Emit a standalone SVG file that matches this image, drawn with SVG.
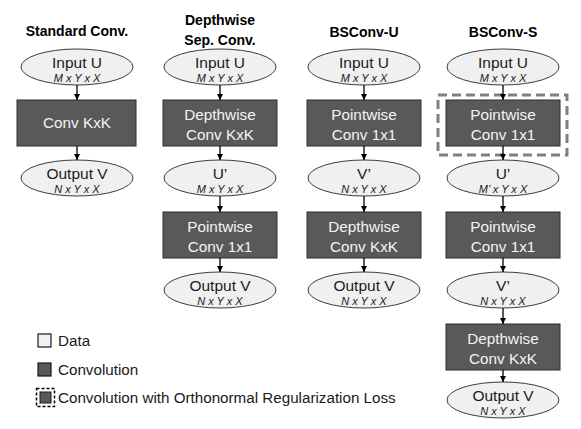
<svg xmlns="http://www.w3.org/2000/svg" width="581" height="429" viewBox="0 0 581 429">
<defs>
<marker id="ah" viewBox="0 0 10 10" refX="10" refY="5" markerWidth="6" markerHeight="6" orient="auto" markerUnits="userSpaceOnUse">
<path d="M0,0 L10,5 L0,10 z" fill="#000"/>
</marker>
<style>
.t{font-family:"Liberation Sans",Arial,sans-serif;font-weight:bold;font-size:14px;fill:#000;text-anchor:middle}
.data ellipse{fill:#f0f0f0;stroke:#3c3c3c;stroke-width:1}
.conv rect{fill:#595959;stroke:#2e2e2e;stroke-width:1}
.lb{font-family:"Liberation Sans",Arial,sans-serif;font-size:15.5px;fill:#1a1a1a;text-anchor:middle}
.sub{font-family:"Liberation Sans",Arial,sans-serif;font-size:11px;font-style:italic;fill:#1a1a1a;text-anchor:middle}
.cl{font-family:"Liberation Sans",Arial,sans-serif;font-size:15.3px;fill:#f4f4f4;text-anchor:middle}
.lg{font-family:"Liberation Sans",Arial,sans-serif;font-size:15.2px;fill:#1a1a1a}
.ar{stroke:#000;stroke-width:1.3;fill:none;marker-end:url(#ah)}
</style>
</defs>
<rect width="581" height="429" fill="#fff"/>

<g id="titles">
<text class="t" x="77" y="36">Standard Conv.</text>
<text class="t" x="220" y="25">Depthwise</text>
<text class="t" x="220" y="45">Sep. Conv.</text>
<text class="t" x="364" y="37">BSConv-U</text>
<text class="t" x="503" y="37">BSConv-S</text>
</g>

<!-- Column 1 -->
<g id="c1-input" class="data"><ellipse cx="77" cy="67" rx="56" ry="18"/><text class="lb" x="77" y="68">Input U</text><text class="sub" x="77" y="82">M x Y x X</text></g>
<g id="c1-conv" class="conv"><rect x="17" y="100" width="119" height="46"/><text class="cl" x="77" y="128">Conv KxK</text></g>
<g id="c1-output" class="data"><ellipse cx="77" cy="178" rx="56" ry="18"/><text class="lb" x="77" y="179">Output V</text><text class="sub" x="77" y="193">N x Y x X</text></g>

<!-- Column 2 -->
<g id="c2-input" class="data"><ellipse cx="220" cy="67" rx="56" ry="18"/><text class="lb" x="220" y="68">Input U</text><text class="sub" x="220" y="82">M x Y x X</text></g>
<g id="c2-dw" class="conv"><rect x="163" y="100" width="114" height="46"/><text class="cl" x="220" y="120">Depthwise</text><text class="cl" x="220" y="140">Conv KxK</text></g>
<g id="c2-u" class="data"><ellipse cx="220" cy="178" rx="56" ry="18"/><text class="lb" x="220" y="179">U’</text><text class="sub" x="220" y="193">M x Y x X</text></g>
<g id="c2-pw" class="conv"><rect x="163" y="212" width="114" height="46"/><text class="cl" x="220" y="232">Pointwise</text><text class="cl" x="220" y="252">Conv 1x1</text></g>
<g id="c2-output" class="data"><ellipse cx="220" cy="290" rx="56" ry="18"/><text class="lb" x="220" y="291">Output V</text><text class="sub" x="220" y="305">N x Y x X</text></g>

<!-- Column 3 -->
<g id="c3-input" class="data"><ellipse cx="364" cy="67" rx="56" ry="18"/><text class="lb" x="364" y="68">Input U</text><text class="sub" x="364" y="82">M x Y x X</text></g>
<g id="c3-pw" class="conv"><rect x="307" y="100" width="114" height="46"/><text class="cl" x="364" y="120">Pointwise</text><text class="cl" x="364" y="140">Conv 1x1</text></g>
<g id="c3-v" class="data"><ellipse cx="364" cy="178" rx="56" ry="18"/><text class="lb" x="364" y="179">V’</text><text class="sub" x="364" y="193">N x Y x X</text></g>
<g id="c3-dw" class="conv"><rect x="307" y="212" width="114" height="46"/><text class="cl" x="364" y="232">Depthwise</text><text class="cl" x="364" y="252">Conv KxK</text></g>
<g id="c3-output" class="data"><ellipse cx="364" cy="290" rx="56" ry="18"/><text class="lb" x="364" y="291">Output V</text><text class="sub" x="364" y="305">N x Y x X</text></g>

<!-- Column 4 -->
<g id="c4-input" class="data"><ellipse cx="503" cy="67" rx="56" ry="18"/><text class="lb" x="503" y="68">Input U</text><text class="sub" x="503" y="82">M x Y x X</text></g>
<g id="c4-pw1" class="conv"><rect x="446" y="100" width="114" height="46"/><text class="cl" x="503" y="120">Pointwise</text><text class="cl" x="503" y="140">Conv 1x1</text></g>
<g id="c4-u" class="data"><ellipse cx="503" cy="178" rx="56" ry="18"/><text class="lb" x="503" y="179">U’</text><text class="sub" x="503" y="193">M’ x Y x X</text></g>
<g id="c4-pw2" class="conv"><rect x="446" y="212" width="114" height="46"/><text class="cl" x="503" y="232">Pointwise</text><text class="cl" x="503" y="252">Conv 1x1</text></g>
<g id="c4-v" class="data"><ellipse cx="503" cy="290" rx="56" ry="18"/><text class="lb" x="503" y="291">V’</text><text class="sub" x="503" y="305">N x Y x X</text></g>
<g id="c4-dw" class="conv"><rect x="446" y="324" width="114" height="46"/><text class="cl" x="503" y="344">Depthwise</text><text class="cl" x="503" y="364">Conv KxK</text></g>
<g id="c4-output" class="data"><ellipse cx="503" cy="400" rx="56" ry="18"/><text class="lb" x="503" y="401">Output V</text><text class="sub" x="503" y="415">N x Y x X</text></g>

<g id="ortho-box"><rect x="438" y="95" width="129" height="60" fill="none" stroke="#808080" stroke-width="3" stroke-dasharray="9 5"/></g>

<g id="connectors">
<line class="ar" x1="77" y1="85" x2="77" y2="100"/>
<line class="ar" x1="77" y1="146" x2="77" y2="160"/>
<line class="ar" x1="220" y1="85" x2="220" y2="100"/>
<line class="ar" x1="220" y1="146" x2="220" y2="160"/>
<line class="ar" x1="220" y1="196" x2="220" y2="212"/>
<line class="ar" x1="220" y1="258" x2="220" y2="272"/>
<line class="ar" x1="364" y1="85" x2="364" y2="100"/>
<line class="ar" x1="364" y1="146" x2="364" y2="160"/>
<line class="ar" x1="364" y1="196" x2="364" y2="212"/>
<line class="ar" x1="364" y1="258" x2="364" y2="272"/>
<line class="ar" x1="503" y1="85" x2="503" y2="100"/>
<line class="ar" x1="503" y1="146" x2="503" y2="160"/>
<line class="ar" x1="503" y1="196" x2="503" y2="212"/>
<line class="ar" x1="503" y1="258" x2="503" y2="272"/>
<line class="ar" x1="503" y1="308" x2="503" y2="324"/>
<line class="ar" x1="503" y1="370" x2="503" y2="382"/>
</g>

<g id="legend">
<rect x="38" y="334" width="13" height="13" fill="#f2f2f2" stroke="#1a1a1a" stroke-width="1.2"/>
<text class="lg" x="58" y="346">Data</text>
<rect x="38" y="363" width="13" height="13" fill="#595959" stroke="#1a1a1a" stroke-width="1.2"/>
<text class="lg" x="58" y="375">Convolution</text>
<rect x="36.5" y="388.5" width="18" height="18" fill="none" stroke="#000" stroke-width="1.5" stroke-dasharray="3 2"/>
<rect x="40" y="392" width="11" height="11" fill="#595959" stroke="#1a1a1a" stroke-width="1"/>
<text class="lg" x="58" y="403">Convolution with Orthonormal Regularization Loss</text>
</g>
</svg>
